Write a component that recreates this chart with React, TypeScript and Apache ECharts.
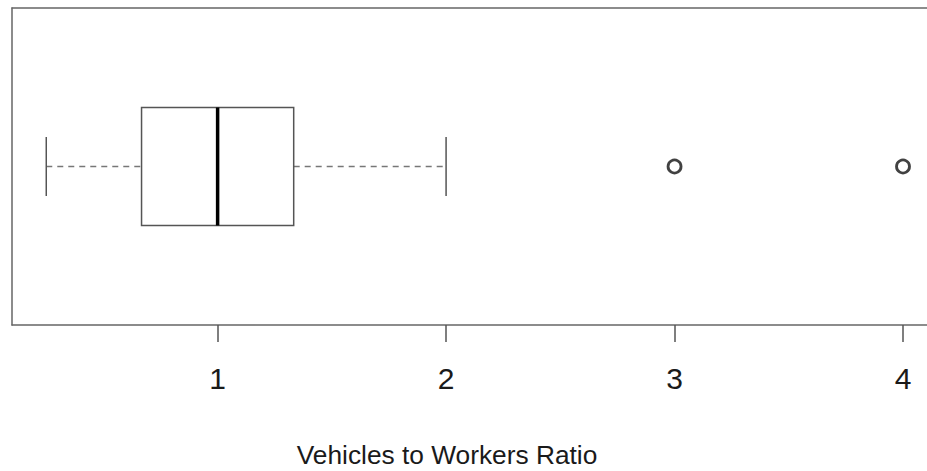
import React, { useEffect, useRef } from "react";
import * as echarts from "echarts";

const boxStats = [0.25, 0.667, 1.0, 1.333, 2.0]; // low whisker, Q1, median, Q3, high whisker
const outliers = [3, 4];
const tickValues = [1, 2, 3, 4];
const axisTitle = "Vehicles to Workers Ratio";

export default function App() {
  const ref = useRef<HTMLDivElement>(null);
  useEffect(() => {
    if (!ref.current) return;
    const chart = echarts.init(ref.current, undefined, { renderer: "svg" });
    const boxGrey = "#555";
    const frame = { show: true, lineStyle: { color: "#666", width: 1.5 } };
    const xRange = { min: 0.1, max: 4.105 };
    chart.setOption({
      animation: false,
      backgroundColor: "#fff",
      grid: {
        left: 12,
        top: 8,
        height: 317,
        right: 0,
        show: false,
      },
      xAxis: [
        {
          type: "value",
          ...xRange,
          position: "bottom",
          splitLine: { show: false },
          axisLine: frame,
          axisTick: {
            show: true,
            customValues: tickValues,
            length: 17,
            lineStyle: { color: "#555", width: 1.5 },
          },
          axisLabel: {
            customValues: tickValues,
            fontSize: 30,
            fontFamily: "Liberation Sans, Arial, sans-serif",
            color: "#1a1a1a",
            margin: 38,
          },
        },
        {
          type: "value",
          ...xRange,
          position: "top",
          splitLine: { show: false },
          axisLine: frame,
          axisTick: { show: false },
          axisLabel: { show: false },
        },
      ],
      yAxis: {
        type: "value",
        min: 0,
        max: 1,
        position: "left",
        splitLine: { show: false },
        axisLine: frame,
        axisTick: { show: false },
        axisLabel: { show: false },
      },
      graphic: [
        {
          type: "text",
          x: 447,
          y: 455,
          style: {
            text: axisTitle,
            fontSize: 26.3,
            fontFamily: "Liberation Sans, Arial, sans-serif",
            fill: "#1a1a1a",
            align: "center",
            verticalAlign: "middle",
          },
        },
      ],
      series: [
        {
          type: "custom",
          xAxisIndex: 0,
          data: [boxStats],
          renderItem: (params: any, api: any) => {
            const lo = api.value(0);
            const q1 = api.value(1);
            const med = api.value(2);
            const q3 = api.value(3);
            const hi = api.value(4);
            const cy = api.coord([lo, 0.5])[1];
            const xLo = api.coord([lo, 0.5])[0];
            const xQ1 = api.coord([q1, 0.5])[0];
            const xMed = api.coord([med, 0.5])[0];
            const xQ3 = api.coord([q3, 0.5])[0];
            const xHi = api.coord([hi, 0.5])[0];
            const hb = 59;
            const hc = 29.5;
            const dashStyle = { stroke: "#777", lineWidth: 1.6, lineDash: [6, 5] };
            const solid = { stroke: boxGrey, lineWidth: 1.5 };
            return {
              type: "group",
              children: [
                { type: "line", shape: { x1: xLo, y1: cy, x2: xQ1, y2: cy }, style: dashStyle },
                { type: "line", shape: { x1: xQ3, y1: cy, x2: xHi, y2: cy }, style: dashStyle },
                { type: "line", shape: { x1: xLo, y1: cy - hc, x2: xLo, y2: cy + hc }, style: solid },
                { type: "line", shape: { x1: xHi, y1: cy - hc, x2: xHi, y2: cy + hc }, style: solid },
                {
                  type: "rect",
                  shape: { x: xQ1, y: cy - hb, width: xQ3 - xQ1, height: 2 * hb },
                  style: { fill: "#fff", stroke: boxGrey, lineWidth: 1.5 },
                },
                { type: "line", shape: { x1: xMed, y1: cy - hb, x2: xMed, y2: cy + hb }, style: { stroke: "#000", lineWidth: 3.5 } },
              ],
            };
          },
        },
        {
          type: "scatter",
          xAxisIndex: 0,
          data: outliers.map((v) => [v, 0.5]),
          symbol: "circle",
          symbolSize: 13,
          itemStyle: { color: "#fff", borderColor: "#111", borderWidth: 2.8 },
        },
      ],
    });
    return () => chart.dispose();
  }, []);
  return <div ref={ref} style={{ width: 927, height: 471, position: "absolute", left: 0, top: 0 }} />;
}
